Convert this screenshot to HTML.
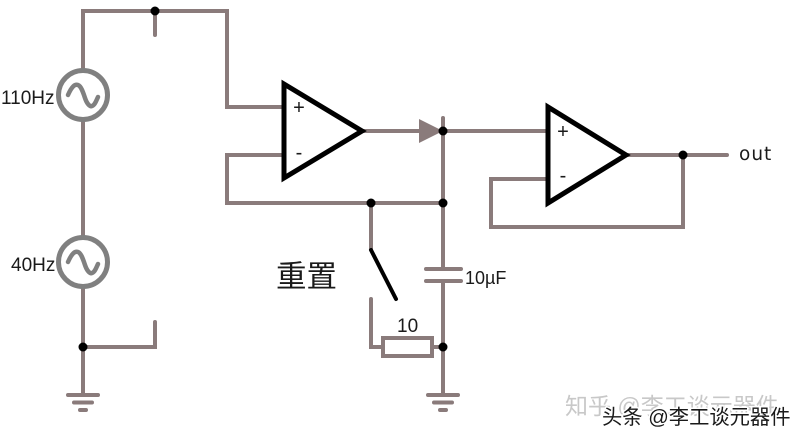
<!DOCTYPE html>
<html>
<head>
<meta charset="utf-8">
<style>
html,body{margin:0;padding:0;background:#fff;}
svg{display:block;}
text{font-family:"Liberation Sans","Noto Sans CJK SC",sans-serif;fill:#1a1a1a;}
</style>
</head>
<body>
<svg width="803" height="439" viewBox="0 0 803 439" xmlns="http://www.w3.org/2000/svg">
<rect width="803" height="439" fill="#fff"/>
<g fill="none" stroke="#8a7b7b" stroke-width="4" stroke-linecap="round" stroke-linejoin="miter">
  <path d="M83 70V11H227V107H284"/>
  <path d="M155 11V35"/>
  <path d="M83 120V237"/>
  <path d="M83 287V395"/>
  <path d="M83 347H155V322"/>
  <path d="M284 155H227V203H443"/>
  <path d="M363 131H547"/>
  <path d="M443 118V269"/>
  <path d="M443 281V395"/>
  <path d="M371 203V249"/>
  <path d="M371 299V347H383"/>
  <rect x="383" y="338" width="49" height="18"/>
  <path d="M432 347H443"/>
  <path d="M426 269H461M426 281H461"/>
  <path d="M628 155H727"/>
  <path d="M683 155V227H491V179H547"/>
  <path d="M68 395H98M74 402.500H92M80 410H86"/>
  <path d="M428 395H458M434 402.500H452M440 410H446"/>
</g>
<path d="M419 119L443 131L419 143Z" fill="#8a7b7b"/>
<g fill="#fff" stroke="#808080" stroke-width="5">
  <circle cx="83" cy="95" r="24.500"/>
  <circle cx="83" cy="262" r="24.500"/>
</g>
<g fill="none" stroke="#808080" stroke-width="4.500" stroke-linecap="round" stroke-linejoin="round">
  <path d="M68 95C72 86 75 84 78 85C81 86 83 92 85 98C87 104 90 107 92 106C95 105 96 101 98 97"/>
  <path d="M68 262C72 253 75 251 78 252C81 253 83 259 85 265C87 271 90 274 92 273C95 272 96 268 98 264"/>
</g>
<g fill="#fff" stroke="#000" stroke-width="5" stroke-linejoin="miter">
  <path d="M284 84V178L362 131Z"/>
  <path d="M548 107V203L626 155Z"/>
</g>
<path d="M371 250L396 299" stroke="#000" stroke-width="4" stroke-linecap="round"/>
<g fill="#000">
  <circle cx="155" cy="11" r="4.500"/>
  <circle cx="83" cy="347" r="4.500"/>
  <circle cx="443" cy="131" r="4.500"/>
  <circle cx="443" cy="203" r="4.500"/>
  <circle cx="371" cy="203" r="4.500"/>
  <circle cx="443" cy="347" r="4.500"/>
  <circle cx="683" cy="155" r="4.500"/>
</g>
<g font-size="19">
  <text x="1" y="104">110Hz</text>
  <text x="11" y="271">40Hz</text>
  <text x="397" y="332">10</text>
</g>
<text x="465" y="284" font-size="18">10µF</text>
<text x="739" y="160" style="font-family:'DejaVu Sans',sans-serif" font-size="18.500" letter-spacing="1">out</text>
<g style="font-family:'DejaVu Sans',sans-serif" font-size="20" text-anchor="middle">
  <text x="299" y="114">+</text>
  <text x="299" y="159">-</text>
  <text x="563" y="138">+</text>
  <text x="563" y="182">-</text>
</g>
<text x="276" y="287" font-size="30.500">重置</text>
<text x="565" y="414" font-size="23" style="fill:#c8c8c8">知乎 @李工谈元器件</text>
<text x="602" y="424" font-size="20.300" stroke="#fff" stroke-width="3" paint-order="stroke" style="fill:#1a1a1a">头条 @李工谈元器件</text>
</svg>
</body>
</html>
